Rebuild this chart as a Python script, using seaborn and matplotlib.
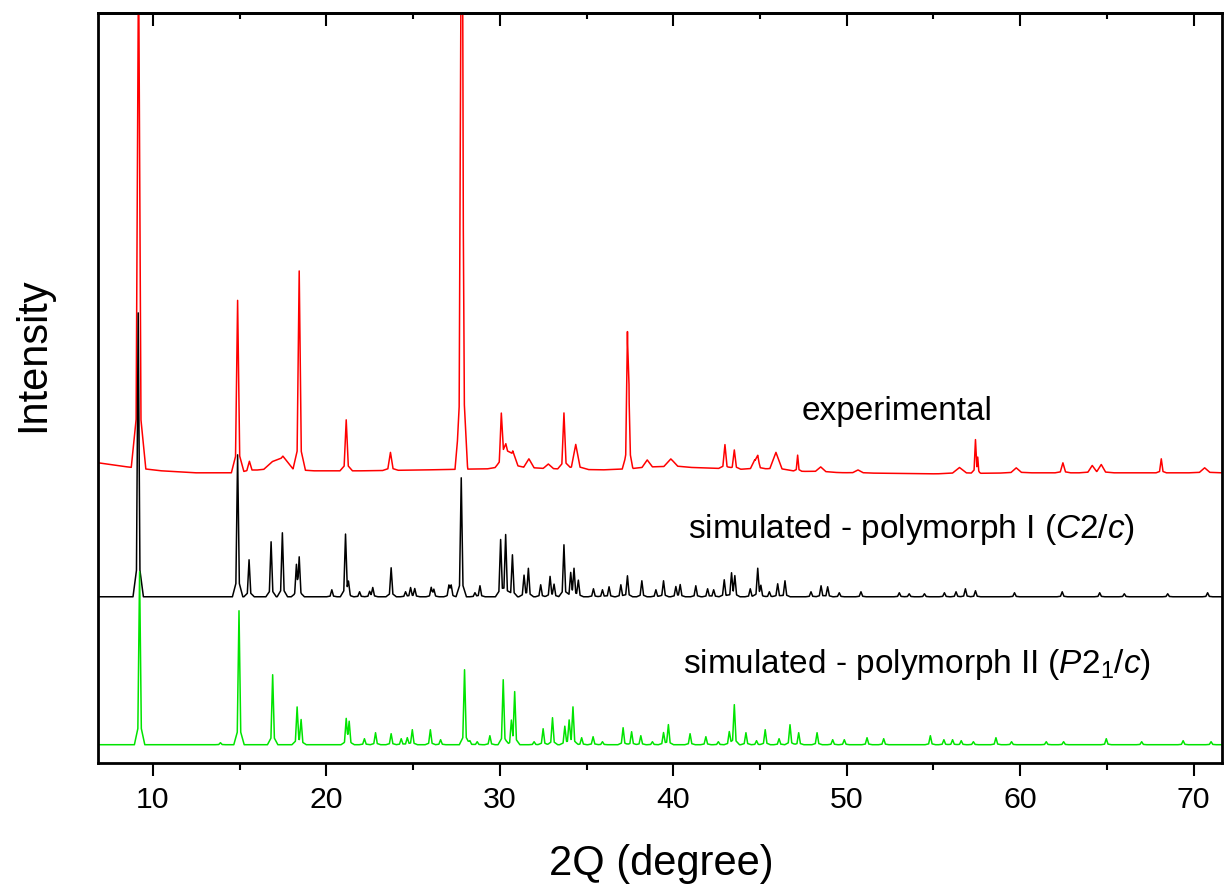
import numpy as np
import pandas as pd
import matplotlib
matplotlib.use("Agg")
import matplotlib.pyplot as plt
from matplotlib.ticker import MultipleLocator
import seaborn as sns

# ---------------- data ----------------
# axis range (2-theta, degree)
x_range = [6.86, 71.63]

# experimental pattern: baseline levels and peaks (position, height above baseline, half width)
exp_base_x = [6.86, 8.5, 10.5, 12.5, 14.5, 16.0, 19.0, 22.0, 26.0, 29.0, 32.0, 36.0, 40.0, 45.0, 50.0, 55.0, 60.0, 65.0, 71.63]
exp_base_y = [300, 296, 292, 290, 290, 292, 292, 292, 293, 294, 294, 293, 296, 293, 290, 289, 290, 290, 290]
exp_pos = [9.18, 14.89, 15.57, 16.9, 17.5, 18.44, 21.15, 23.70, 27.78, 27.86, 30.09, 30.35, 30.75, 31.68, 32.8,
           33.70, 34.38, 37.36, 37.45, 38.5, 39.86, 42.98, 43.52, 44.70, 44.87, 45.92, 47.17, 48.5, 50.65,
           56.5, 57.42, 57.55, 59.77, 62.46, 64.15, 64.67, 68.13, 70.63]
exp_height = [520, 172, 10, 8, 14, 199, 51, 18, 520, 300, 48, 22, 16, 10, 5,
              56, 25, 132, 60, 8, 8, 24, 19, 9, 11, 18, 16, 5, 3,
              6, 33, 14, 5, 10, 7, 8, 14, 5]
exp_hw = [0.14, 0.12, 0.15, 0.5, 0.6, 0.12, 0.12, 0.15, 0.12, 0.1, 0.12, 0.35, 0.3, 0.3, 0.3,
          0.12, 0.25, 0.1, 0.08, 0.3, 0.4, 0.12, 0.12, 0.25, 0.15, 0.35, 0.08, 0.3, 0.3,
          0.4, 0.08, 0.06, 0.3, 0.15, 0.25, 0.25, 0.1, 0.3]

# simulated - polymorph I (C2/c)
sim1_base = 166
sim1_pos = [9.16, 14.89, 15.55, 16.82, 17.47, 18.28, 18.44, 20.32, 21.11, 21.28, 21.92, 22.5, 22.68,
            23.74, 24.57, 24.86, 25.10, 26.05, 26.20, 27.07, 27.20, 27.78, 28.57, 28.86, 30.05, 30.34,
            30.73, 31.40, 31.65, 32.36, 32.90, 33.13, 33.70, 34.09, 34.28, 34.53, 35.40, 35.92, 36.30,
            36.98, 37.36, 38.19, 39.00, 39.44, 40.15, 40.40, 41.30, 41.98, 42.33, 42.94, 43.36, 43.55,
            44.44, 44.87, 45.05, 45.54, 46.02, 46.44, 47.94, 48.52, 48.90, 49.57, 50.82, 53.03, 53.60,
            54.48, 55.63, 56.30, 56.84, 57.42, 59.67, 62.42, 64.58, 66.0, 68.5, 70.8]
sim1_height = [284, 142, 37, 55, 64, 30, 38, 7, 62, 12, 5, 5, 9,
               29, 5, 9, 8, 9, 7, 11, 11, 119, 4, 11, 57, 62,
               42, 21, 28, 12, 20, 12, 52, 23, 27, 16, 8, 7, 10,
               12, 21, 16, 7, 16, 10, 12, 11, 8, 7, 17, 23, 20,
               8, 28, 10, 5, 13, 16, 5, 11, 10, 4, 5, 4, 3,
               3, 4, 5, 8, 6, 4, 5, 4, 3, 3, 4]

# simulated - polymorph II (P2_1/c)
sim2_base = 18
sim2_pos = [9.24, 13.9, 14.97, 16.91, 18.32, 18.55, 21.15, 21.32, 22.20, 22.84, 23.74, 24.32, 24.67, 24.96,
            26.00, 26.59, 27.97, 28.28, 28.70, 29.43, 30.20, 30.67, 30.86, 31.98, 32.50, 33.04, 33.75,
            34.00, 34.22, 34.72, 35.38, 35.92, 37.11, 37.60, 38.13, 38.80, 39.44, 39.72, 40.97, 41.88,
            42.60, 43.23, 43.52, 44.19, 44.80, 45.30, 46.10, 46.73, 47.23, 48.29, 49.19, 49.86, 51.17,
            52.13, 54.82, 55.60, 56.10, 56.60, 57.30, 58.60, 59.50, 61.50, 62.50, 64.96, 67.0, 69.39, 71.0]
sim2_height = [173, 2, 134, 70, 37, 24, 25, 22, 6, 12, 11, 6, 7, 15,
               15, 5, 75, 4, 3, 9, 65, 22, 52, 3, 16, 27, 18,
               23, 37, 7, 8, 3, 17, 13, 9, 3, 12, 20, 11, 8,
               3, 13, 40, 12, 4, 15, 6, 20, 12, 12, 5, 5, 7,
               6, 9, 5, 5, 4, 3, 7, 3, 3, 3, 6, 3, 4, 3]

series_labels = ["experimental", "simulated - polymorph I ($\\mathit{C}$2/$\\mathit{c}$)",
                 "simulated - polymorph II ($\\mathit{P}\\mathrm{2}_{\\mathrm{1}}/\\mathit{c}$)"]
x_ticks = [10, 20, 30, 40, 50, 60, 70]


# ---------------- drawing helpers ----------------
def peak_vertices(pos, hgt, hw, base_x, base_y):
    """Polyline vertices: each read peak drawn as a narrow spike with a small foot."""
    pos = np.asarray(pos, float)
    hgt = np.asarray(hgt, float)
    hw = np.asarray(hw, float)
    xs = np.concatenate([base_x, pos, pos - hw, pos + hw, pos - 3 * hw, pos + 3 * hw])
    xs = np.unique(np.clip(xs, x_range[0], x_range[1]))
    ys = np.interp(xs, base_x, base_y)
    for p, h, w in zip(pos, hgt, hw):
        d = np.abs(xs - p)
        ys = ys + 0.86 * h * np.clip(1 - d / w, 0, None) + 0.14 * h * np.clip(1 - d / (3 * w), 0, None)
    return xs, ys


sns.set_theme(style="ticks")
plt.rcParams["font.family"] = ["Liberation Sans", "DejaVu Sans"]
plt.rcParams["mathtext.fontset"] = "custom"
plt.rcParams["mathtext.rm"] = "Liberation Sans"
plt.rcParams["mathtext.it"] = "Liberation Sans:italic"
plt.rcParams["mathtext.bf"] = "Liberation Sans:bold"
plt.rcParams["text.color"] = "black"
plt.rcParams["axes.labelcolor"] = "black"
plt.rcParams["xtick.color"] = "black"
plt.rcParams["xtick.labelcolor"] = "black"

W, H = 1224, 888
fig = plt.figure(figsize=(W / 100, H / 100), dpi=100)
ax = fig.add_axes([98.3 / W, 1 - 762.7 / H, (1222 - 98.3) / W, (762.7 - 13) / H])

ex, ey = peak_vertices(exp_pos, exp_height, exp_hw, exp_base_x, exp_base_y)
s1x, s1y = peak_vertices(sim1_pos, sim1_height, [0.1] * len(sim1_pos),
                         x_range, [sim1_base, sim1_base])
s2x, s2y = peak_vertices(sim2_pos, sim2_height, [0.1] * len(sim2_pos),
                         x_range, [sim2_base, sim2_base])

sns.lineplot(x=ex, y=ey, ax=ax, color="#FF0000", lw=1.1, estimator=None, sort=False)
sns.lineplot(x=s1x, y=s1y, ax=ax, color="#000000", lw=1.1, estimator=None, sort=False)
sns.lineplot(x=s2x, y=s2y, ax=ax, color="#00E400", lw=1.1, estimator=None, sort=False)

ax.set_xlim(*x_range)
ax.set_ylim(0, 750)
ax.set_yticks([])
ax.set_xticks(x_ticks)
ax.xaxis.set_minor_locator(MultipleLocator(5))
ax.tick_params(axis="x", which="major", direction="out", length=9.5, width=1.5,
               labelsize=21.8, pad=7, colors="black")
ax.tick_params(axis="x", which="minor", direction="out", length=5, width=1.5, colors="black")
ax.set_xlabel("")
ax.set_ylabel("")
for s in ax.spines.values():
    s.set_visible(True)
    s.set_linewidth(2.0)
    s.set_color("black")

# top ticks pointing inward
top = ax.secondary_xaxis("top")
top.set_xticks(x_ticks)
top.xaxis.set_minor_locator(MultipleLocator(5))
top.tick_params(axis="x", which="major", direction="in", length=9.5, width=1.5, labeltop=False, colors="black")
top.tick_params(axis="x", which="minor", direction="in", length=4.5, width=1.5, colors="black")
top.spines["top"].set_linewidth(2.0)
top.spines["top"].set_color("black")

# series annotations
ax.text(47.4, 342.7, series_labels[0], fontsize=24, ha="left", va="baseline", color="black")
ax.text(40.87, 224.4, series_labels[1], fontsize=24, ha="left", va="baseline", color="black")
ax.text(40.58, 89.4, series_labels[2], fontsize=24, ha="left", va="baseline", color="black")

fig.text(661 / W, 1 - 875 / H, "2Q (degree)", fontsize=30, ha="center", va="baseline", color="black")
fig.text(33 / W, 1 - 355 / H, "Intensity", fontsize=30, rotation=90, ha="center", va="center", color="black")

fig.savefig("out.png", dpi=100)
